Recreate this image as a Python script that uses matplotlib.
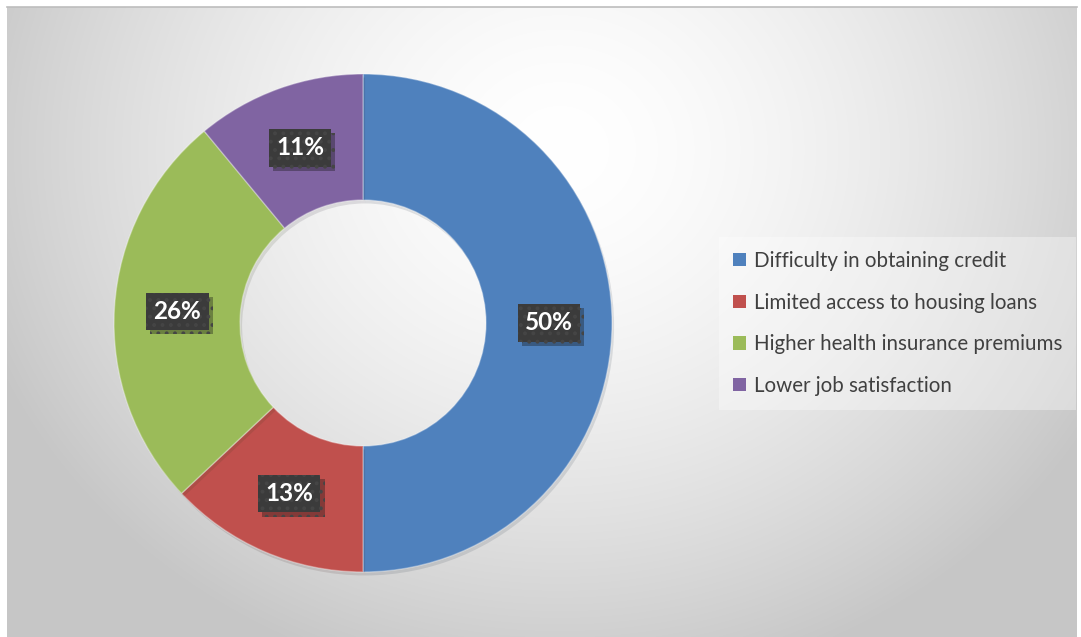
import numpy as np
import matplotlib
matplotlib.use("Agg")
import matplotlib.pyplot as plt
from matplotlib import patheffects as pe
from matplotlib.lines import Line2D

plt.rcParams["font.family"] = ["Lato", "DejaVu Sans"]
plt.rcParams["hatch.linewidth"] = 1.6

categories = [
    "Difficulty in obtaining credit",
    "Limited access to housing loans",
    "Higher health insurance premiums",
    "Lower job satisfaction",
]
shares = [50, 13, 26, 11]
colors = ["#4F81BD", "#C0504D", "#9BBB59", "#8064A2"]

W, H = 1081, 637
fig = plt.figure(figsize=(W / 100, H / 100), dpi=100)
fig.patch.set_facecolor("white")

# radial grey backdrop, light near the top centre
x0, y0, x1, y1 = 7, 7, 1077, 637
bg = fig.add_axes([x0 / W, 0, (x1 - x0) / W, (y1 - y0) / H])
xs = np.arange(x0, x1) + 0.5
ys = np.arange(y0, y1) + 0.5
gx, gy = np.meshgrid(xs, ys)
r = np.hypot((gx - 560) / 560, (gy - 150) / 500)
val = 255 - 57 * np.clip(r / 1.1, 0, 1) ** 1.6
img = np.dstack([val, val, val]) / 255
bg.imshow(img, aspect="auto", interpolation="bilinear")
bg.axis("off")
fig.add_artist(Line2D([x0 / W, x1 / W], [1 - y0 / H, 1 - y0 / H],
                      color="#bdbdbd", lw=1.2, transform=fig.transFigure))

# donut drawn in pixel units (y up)
ax = fig.add_axes([0, 0, 1, 1])
ax.patch.set_alpha(0)

cx, cy = 363, H - 323
outer, inner = 249, 123
wedges, _ = ax.pie(
    shares, colors=colors, startangle=90, counterclock=False,
    center=(cx, cy), radius=outer, frame=True,
    wedgeprops=dict(width=outer - inner, edgecolor=(1, 1, 1, 0.35), linewidth=1),
)
ax.set_xlim(0, W)
ax.set_ylim(0, H)
ax.set_aspect("equal")
ax.axis("off")
for w in wedges:
    w.set_path_effects([pe.SimplePatchShadow(offset=(1.5, -2.5), alpha=0.12),
                        pe.Normal()])

# value boxes at mid-ring
total = sum(shares)
start = 90.0
mid_r = (outer + inner) / 2
for v in shares:
    span = 360.0 * v / total
    ang = np.deg2rad(start - span / 2)
    start -= span
    t = ax.text(cx + mid_r * np.cos(ang), cy + mid_r * np.sin(ang), f"{v}%",
                ha="center", va="center", color="white", fontsize=17.5,
                fontweight="bold",
                bbox=dict(boxstyle="square,pad=0.3", fc="#3b3b3b",
                          ec="#454545", hatch="..", lw=0))
    t.get_bbox_patch().set_path_effects(
        [pe.SimplePatchShadow(offset=(3, -3), alpha=0.35), pe.Normal()])

leg = fig.legend(
    wedges, categories, loc="upper left",
    bbox_to_anchor=(719 / W, 1 - 237 / H), fontsize=14.8,
    frameon=True, fancybox=False, handlelength=0.62, handleheight=0.62,
    handletextpad=0.4, labelspacing=1.05, borderpad=0.68,
    borderaxespad=0,
)
frame = leg.get_frame()
frame.set_facecolor("white")
frame.set_alpha(0.35)
frame.set_edgecolor("none")
for txt in leg.get_texts():
    txt.set_color("#404040")
for h in leg.legend_handles:
    h.set_path_effects([])
    h.set_edgecolor("none")

fig.savefig("out.png", dpi=100)
